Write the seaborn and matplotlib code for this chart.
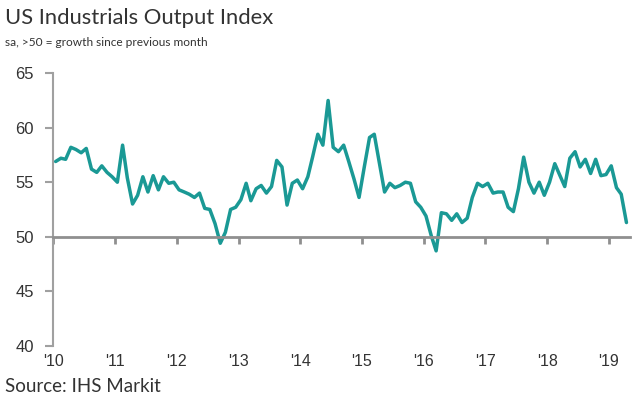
import matplotlib
matplotlib.use("Agg")
import matplotlib.pyplot as plt
import matplotlib.dates as mdates
import seaborn as sns
import pandas as pd
import datetime as dt

# ---- data (monthly index, Jan 2010 - Apr 2019) ----
v2010 = [56.9, 57.2, 57.1, 58.2, 58.0, 57.7, 58.1, 56.2, 55.9, 56.5, 55.9, 55.5]
v2011 = [55.0, 58.4, 55.4, 53.0, 53.8, 55.5, 54.1, 55.6, 54.3, 55.5, 54.9, 55.0]
v2012 = [54.3, 54.1, 53.9, 53.6, 54.0, 52.6, 52.5, 51.2, 49.4, 50.4, 52.5, 52.7]
v2013 = [53.4, 54.9, 53.3, 54.4, 54.7, 54.0, 54.6, 57.0, 56.4, 52.9, 54.9, 55.2]
v2014 = [54.4, 55.5, 57.3, 59.4, 58.4, 62.5, 58.2, 57.8, 58.4, 56.9, 55.3, 53.6]
v2015 = [56.4, 59.1, 59.4, 56.7, 54.1, 54.9, 54.5, 54.7, 55.0, 54.9, 53.2, 52.7]
v2016 = [51.9, 50.1, 48.7, 52.2, 52.1, 51.5, 52.1, 51.3, 51.7, 53.6, 54.9, 54.6]
v2017 = [54.9, 54.0, 54.1, 54.1, 52.7, 52.3, 54.4, 57.3, 55.0, 54.0, 55.0, 53.8]
v2018 = [55.0, 56.7, 55.7, 54.6, 57.2, 57.8, 56.4, 57.1, 55.8, 57.1, 55.6, 55.7]
v2019 = [56.5, 54.5, 53.9, 51.3]

years = list(range(2010, 2020))
year_labels = ["'10", "'11", "'12", "'13", "'14", "'15", "'16", "'17", "'18", "'19"]
y_ticks = [40, 45, 50, 55, 60, 65]

title = "US Industrials Output Index"
subtitle = "sa, >50 = growth since previous month"
source = "Source: IHS Markit"

values = v2010 + v2011 + v2012 + v2013 + v2014 + v2015 + v2016 + v2017 + v2018 + v2019
dates = pd.date_range("2010-01-01", periods=len(values), freq="MS") + pd.Timedelta(days=14)
df = pd.DataFrame({"date": dates, "value": values})

# ---- style ----
sns.set_style("white")
plt.rcParams["font.family"] = ["Lato", "DejaVu Sans"]

LINE = "#1a9995"
AXIS = "#8f8f8f"
TEXT = "#333333"
TICKFONT = ["Liberation Sans Narrow", "Liberation Sans", "DejaVu Sans"]

fig = plt.figure(figsize=(6.42, 4.09), dpi=100)
ax = fig.add_axes([0.083, 0.1548, 0.8983, 0.6662])

sns.lineplot(data=df, x="date", y="value", ax=ax, color=LINE, linewidth=2.5,
             solid_joinstyle="round", solid_capstyle="round")

ax.set_ylim(40, 65)
ax.set_xlim(dt.datetime(2010, 1, 1), dt.datetime(2019, 5, 6))
ax.set_xlabel("")
ax.set_ylabel("")

for s in ("top", "right"):
    ax.spines[s].set_visible(False)
ax.spines["bottom"].set_position(("data", 50))
ax.spines["bottom"].set_color(AXIS)
ax.spines["bottom"].set_linewidth(2)
ax.spines["left"].set_color("#a0a0a0")
ax.spines["left"].set_linewidth(1.5)

year_dates = [mdates.date2num(dt.datetime(y, 1, 1)) for y in years]
ax.set_xticks(year_dates)
ax.tick_params(axis="x", bottom=True, direction="out", length=5, width=2, color=AXIS,
               labelbottom=False)

ax.set_yticks(y_ticks, labels=[str(t) for t in y_ticks],
              fontfamily=TICKFONT, fontsize=12, color=TEXT)
ax.tick_params(axis="y", left=True, direction="out", length=6, width=1.5,
               color="#a0a0a0", pad=8)

secax = ax.secondary_xaxis(0)
secax.set_xticks(year_dates, labels=year_labels, fontfamily=TICKFONT,
                 fontsize=11.5, color=TEXT)
secax.tick_params(length=0, pad=6)
secax.spines["bottom"].set_visible(False)

fig.text(5 / 642, 1 - 18 / 409, title, fontsize=15.8, color=TEXT, va="center", ha="left")
fig.text(5 / 642, 1 - 42 / 409, subtitle, fontsize=8.6, color=TEXT, va="center", ha="left")
fig.text(5 / 642, 1 - 387 / 409, source, fontsize=13.5, color=TEXT, va="center", ha="left")

fig.savefig("out.png", dpi=100)
